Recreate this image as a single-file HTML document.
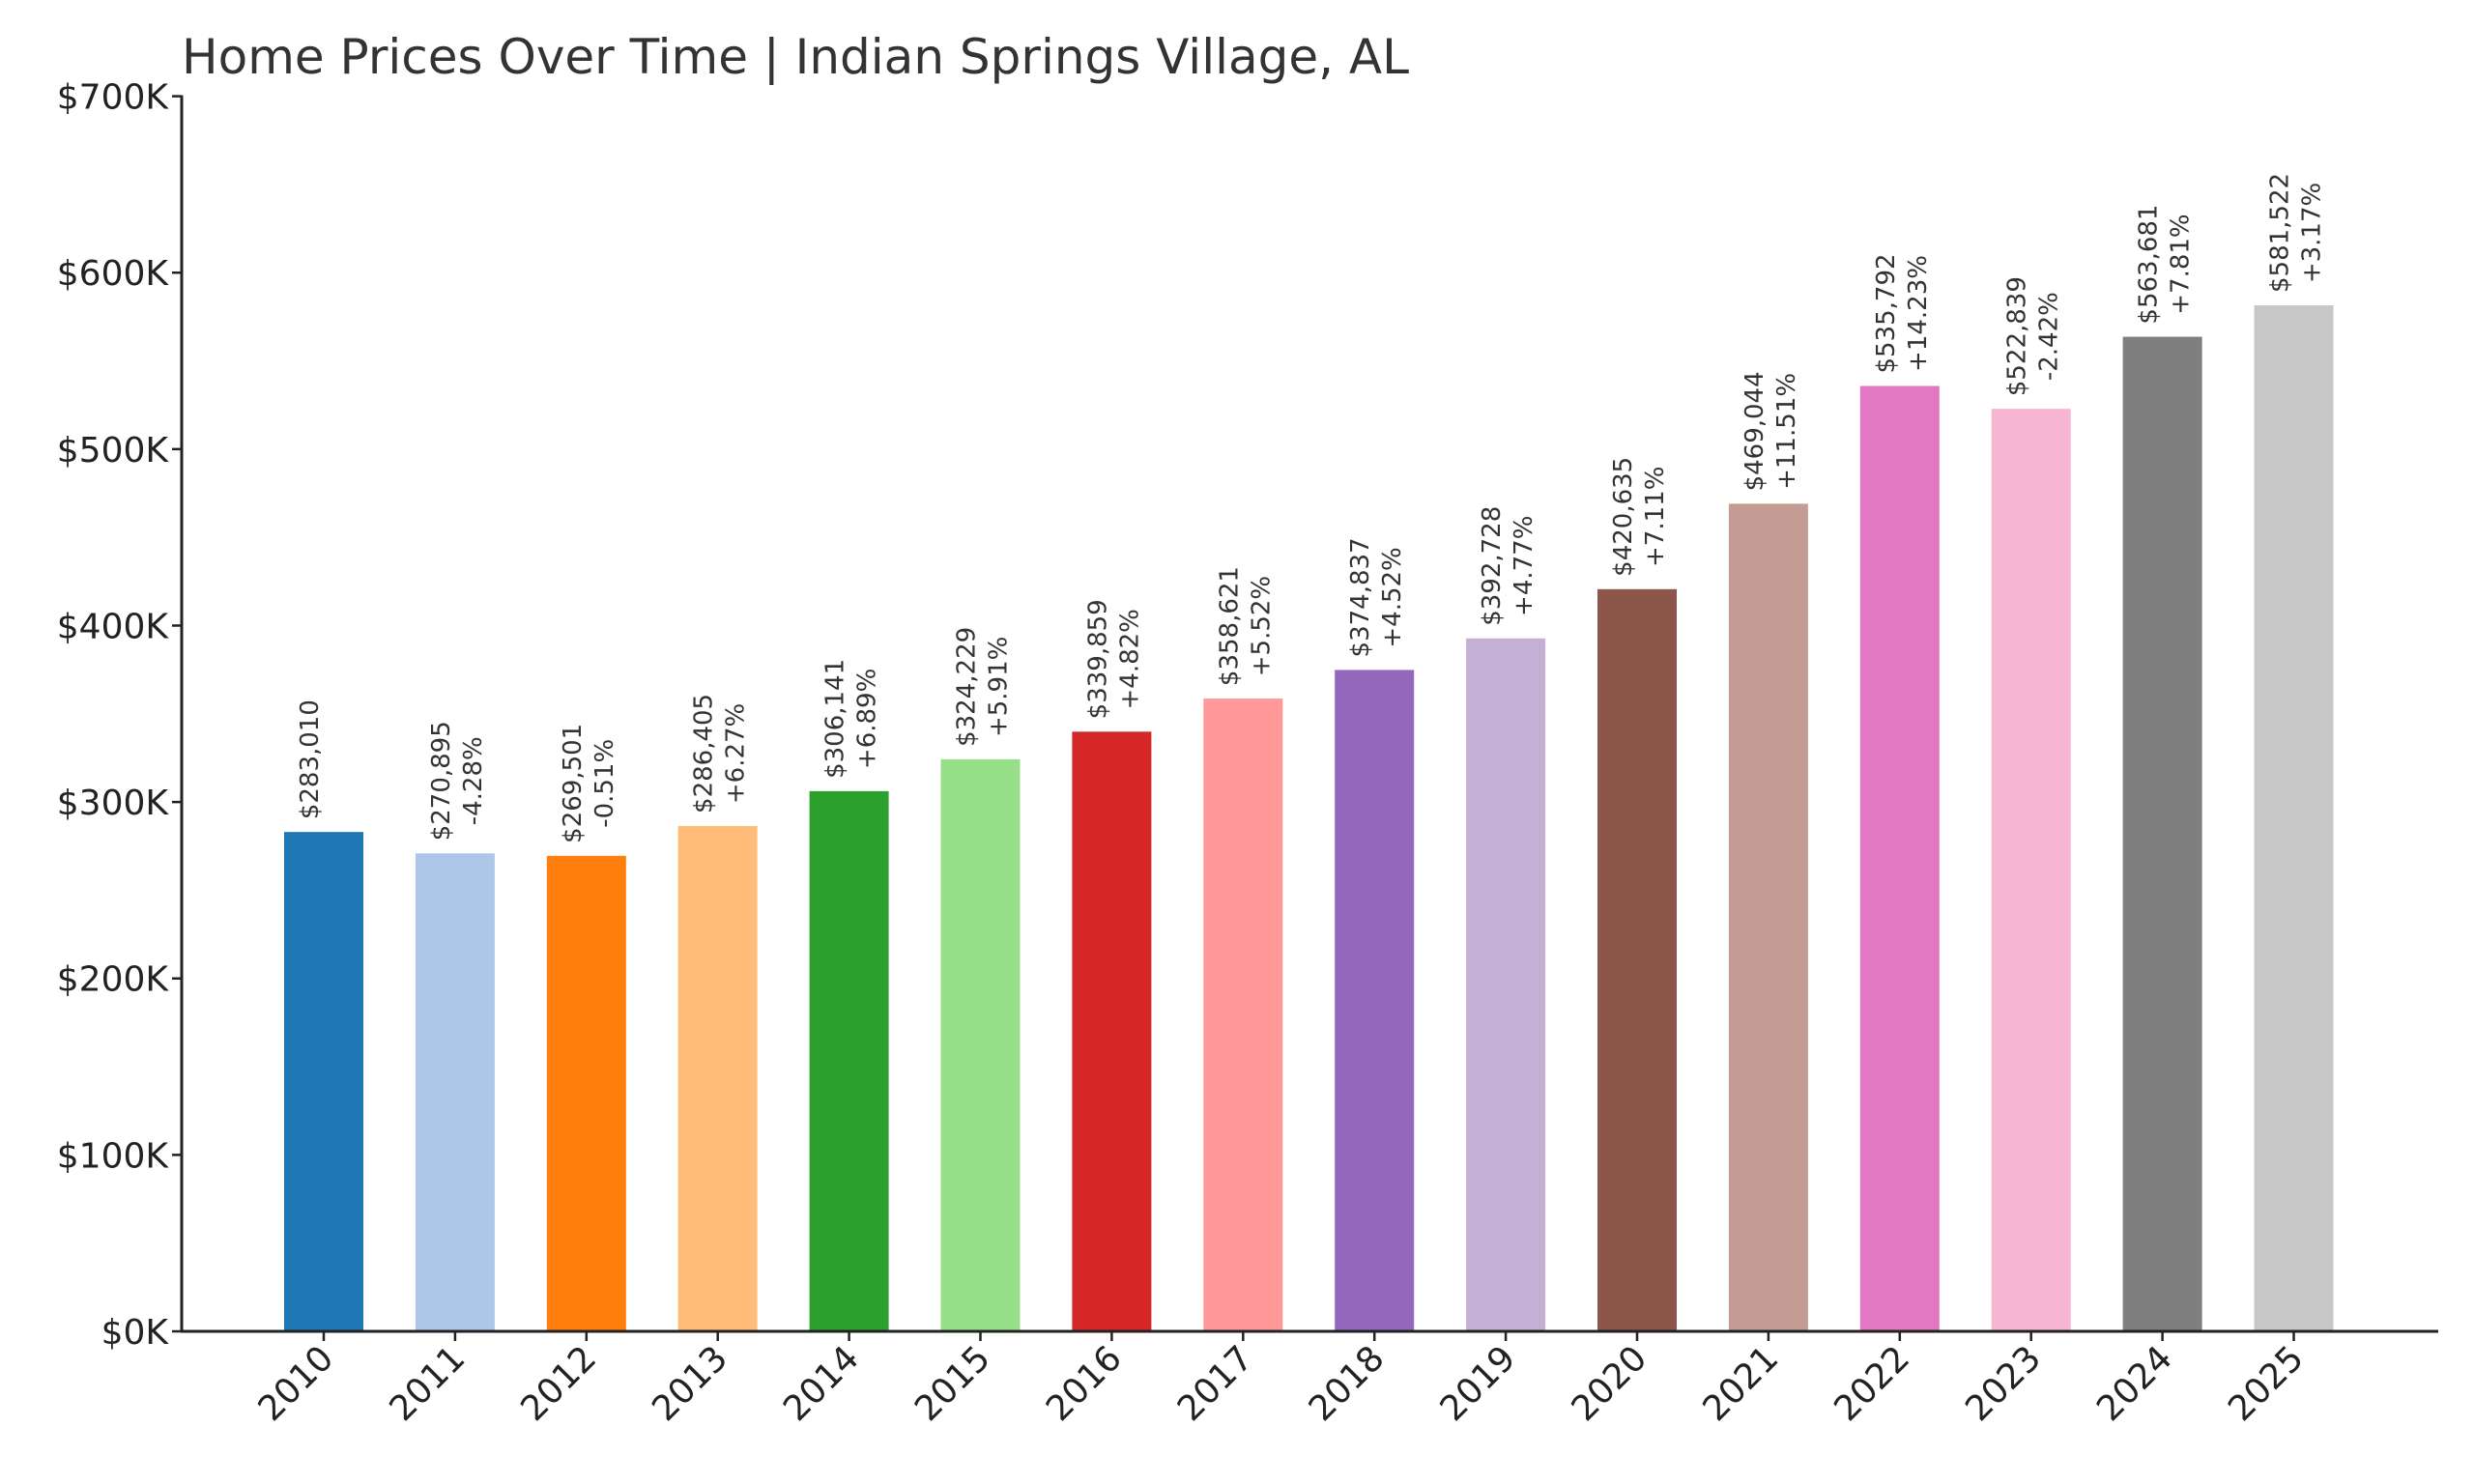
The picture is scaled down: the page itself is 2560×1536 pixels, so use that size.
<!DOCTYPE html>
<html><head><meta charset="utf-8"><style>
html,body{margin:0;padding:0;background:#fff;}
svg{display:block;font-family:"DejaVu Sans","Liberation Sans",sans-serif;}
</style></head><body>
<svg id="chart" width="2560" height="1536" viewBox="0 0 2560 1536">
<text x="188" y="76" font-size="50" fill="#333">Home Prices Over Time | Indian Springs Village, AL</text>
<g id="yaxis"></g>
<g id="bars"></g>
<g id="xaxis"></g>
</svg>
<script>
const years = ["2010","2011","2012","2013","2014","2015","2016","2017","2018","2019","2020","2021","2022","2023","2024","2025"];
const values = [283010,270895,269501,286405,306141,324229,339859,358621,374837,392728,420635,469044,535792,522839,563681,581522];
const changes = ["","-4.28%","-0.51%","+6.27%","+6.89%","+5.91%","+4.82%","+5.52%","+4.52%","+4.77%","+7.11%","+11.51%","+14.23%","-2.42%","+7.81%","+3.17%"];
const yTicks = [0,100000,200000,300000,400000,500000,600000,700000];
const yTickLabels = ["$0K","$100K","$200K","$300K","$400K","$500K","$600K","$700K"];
const colors = ["#1f77b4","#aec7e8","#ff7f0e","#ffbb78","#2ca02c","#98df8a","#d62728","#ff9896","#9467bd","#c5b0d5","#8c564b","#c49c94","#e377c2","#f7b6d2","#7f7f7f","#c7c7c7"];

const NS="http://www.w3.org/2000/svg";
const left=188,right=2523,y0=1378,yTop=99.6,yMax=700000;
const firstC=335,step=135.9,bw=82;
function y(v){return y0-(v/yMax)*(y0-yTop);}
function x(i){return firstC+i*step;}
function mk(tag,attrs,parent){const e=document.createElementNS(NS,tag);for(const k in attrs)e.setAttribute(k,attrs[k]);parent.appendChild(e);return e;}

const ya=document.getElementById('yaxis'),ba=document.getElementById('bars'),xa=document.getElementById('xaxis');
yTicks.forEach((t,i)=>{
  const tk=mk('line',{x1:left-10,x2:left,y1:y(t),y2:y(t),stroke:'#222','stroke-width':2.5},ya);
  
  
  const lb=mk('text',{x:left-14,y:y(t)+13,'font-size':36,'text-anchor':'end',fill:'#222'},ya);
  lb.textContent=yTickLabels[i];
  
  
});
values.forEach((v,i)=>{
  const r=mk('rect',{x:x(i)-bw/2,y:y(v),width:bw,height:y0-y(v),fill:colors[i]},ba);
  
  
  const mid=y(v)-75;
  const t1=mk('text',{x:0,y:0,'font-size':26,'text-anchor':'middle',fill:'#333',transform:`translate(${x(i)-6},${mid}) rotate(-90)`},ba);
  t1.textContent='$'+v.toLocaleString('en-US');
  
  
  if(changes[i]){
    const t2=mk('text',{x:0,y:0,'font-size':26,'text-anchor':'middle',fill:'#333',transform:`translate(${x(i)+27},${mid}) rotate(-90)`},ba);
    t2.textContent=changes[i];
    
    
  }
  const tk=mk('line',{x1:x(i),x2:x(i),y1:y0,y2:y0+10,stroke:'#222','stroke-width':2.5},xa);
  
  
  const lb=mk('text',{x:0,y:0,'font-size':36,'text-anchor':'end',fill:'#222',transform:`translate(${x(i)+12},${y0+30}) rotate(-45)`},xa);
  lb.textContent=years[i];
  
  
});
const ax=mk('line',{x1:left,x2:left,y1:yTop-1,y2:y0+1,stroke:'#222','stroke-width':3},ya);


const bx=mk('line',{x1:left-1,x2:right,y1:y0,y2:y0,stroke:'#222','stroke-width':3},xa);


</script>
</body></html>
